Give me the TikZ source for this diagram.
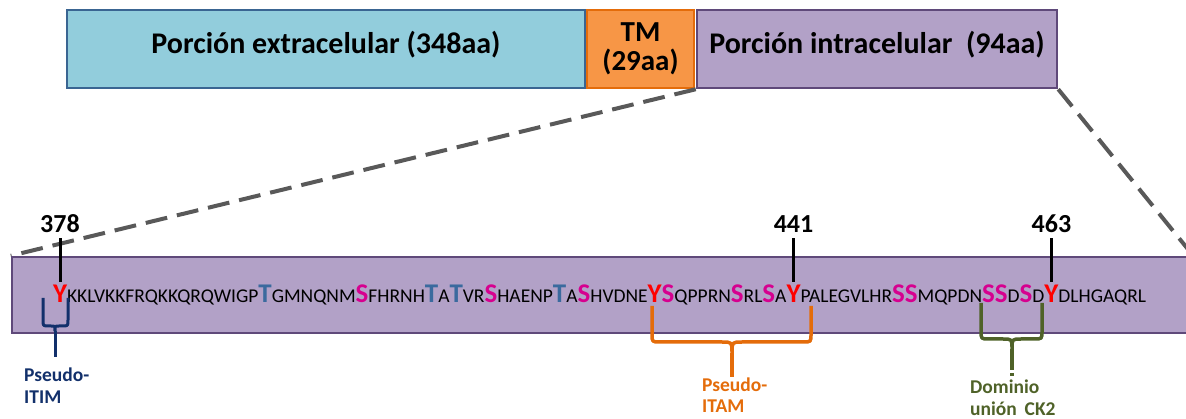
\documentclass[tikz,border=0pt]{standalone}
\usepackage{fontspec}
\setmainfont{Carlito}
\usetikzlibrary{calc}

\definecolor{extfill}{HTML}{92CDDC}
\definecolor{extline}{HTML}{3A6592}
\definecolor{tmfill}{HTML}{F79646}
\definecolor{tmline}{HTML}{E46C0A}
\definecolor{infill}{HTML}{B2A1C7}
\definecolor{inline}{HTML}{5F497A}
\definecolor{tyrc}{HTML}{FF0000}
\definecolor{serc}{HTML}{D6008F}
\definecolor{thrc}{HTML}{3A6A9E}
\definecolor{itimc}{HTML}{12306B}
\definecolor{itamc}{HTML}{E46C0A}
\definecolor{ckc}{HTML}{4F6228}
\definecolor{zoomc}{HTML}{595959}

\begin{document}
\begin{tikzpicture}[x=1pt,y=1pt,
  dombox/.style={draw, line width=2.5pt, minimum height=78pt, inner sep=0pt},
  domtext/.style={inner sep=0pt, font=\fontsize{30}{30}\selectfont\bfseries},
  res/.style={anchor=base west, inner sep=0pt, outer sep=0pt, font=\fontsize{19.5}{20}\selectfont},
  tyr/.style={res, text=tyrc, font=\fontsize{27}{28}\selectfont\bfseries},
  thr/.style={res, text=thrc, font=\fontsize{27}{28}\selectfont\bfseries},
  ser/.style={res, text=serc, font=\fontsize{27}{28}\selectfont\bfseries},
  num/.style={anchor=base, inner sep=0pt, font=\fontsize{26}{26}\selectfont\bfseries},
  tickline/.style={line width=3pt, black},
  zoomline/.style={line width=4pt, zoomc, dash pattern=on 22pt off 10pt},
  bracepath/.style={line width=3.5pt, line join=round},
  lbl/.style={anchor=base west, align=left, inner sep=0pt, font=\fontsize{19.5}{21}\selectfont\bfseries}
]
\clip (0,0) rectangle (1186,-419);

% domain bar
\node[dombox, fill=extfill, draw=extline, minimum width=518pt] (ext) at (326,-49) {};
\node[dombox, fill=tmfill, draw=tmline, minimum width=107pt] (tm) at (640.5,-49) {};
\node[dombox, fill=infill, draw=inline, minimum width=360pt] (intra) at (877,-49) {};
\node[domtext] at ([yshift=4pt]ext.center) {Porción extracelular (348aa)};
\node[domtext, align=center, font=\fontsize{29}{29}\selectfont\bfseries] at (tm.center) {TM\\(29aa)};
\node[domtext] at ([yshift=4pt]intra.center) {Porción intracelular\ \ (94aa)};

% expanded intracellular region
\node[dombox, fill=infill, draw=inline, minimum width=1180pt, minimum height=76pt] (seq) at (602,-295) {};
\draw[zoomline] (intra.south west) -- (seq.north west);
\draw[zoomline] (intra.south east) -- (seq.north east);
\node[dombox, fill=infill, draw=inline, minimum width=1180pt, minimum height=76pt] at (seq.center) {};

% residues 378-471
\node[tyr] (s1) at (53,-303) {Y};
\node[res] (s2) at (s1.base east) {KKLVKKFRQKKQRQWIGP};
\node[thr] (s3) at (s2.base east) {T};
\node[res] (s4) at (s3.base east) {GMNQNM};
\node[ser] (s5) at (s4.base east) {S};
\node[res] (s6) at (s5.base east) {FHRNH};
\node[thr] (s7) at (s6.base east) {T};
\node[res] (s8) at (s7.base east) {A};
\node[thr] (s9) at (s8.base east) {T};
\node[res] (s10) at (s9.base east) {VR};
\node[ser] (s11) at (s10.base east) {S};
\node[res] (s12) at (s11.base east) {HAENP};
\node[thr] (s13) at (s12.base east) {T};
\node[res] (s14) at (s13.base east) {A};
\node[ser] (s15) at (s14.base east) {S};
\node[res] (s16) at (s15.base east) {HVDNE};
\node[tyr] (s17) at (s16.base east) {Y};
\node[ser] (s18) at (s17.base east) {S};
\node[res] (s19) at (s18.base east) {QPPRN};
\node[ser] (s20) at (s19.base east) {S};
\node[res] (s21) at (s20.base east) {RL};
\node[ser] (s22) at (s21.base east) {S};
\node[res] (s23) at (s22.base east) {A};
\node[tyr] (s24) at (s23.base east) {Y};
\node[res] (s25) at (s24.base east) {PALEGVLHR};
\node[ser] (s26) at (s25.base east) {SS};
\node[res] (s27) at (s26.base east) {MQPDN};
\node[ser] (s28) at (s27.base east) {SS};
\node[res] (s29) at (s28.base east) {D};
\node[ser] (s30) at (s29.base east) {S};
\node[res] (s31) at (s30.base east) {D};
\node[tyr] (s32) at (s31.base east) {Y};
\node[res] (s33) at (s32.base east) {DLHGAQRL};

% position markers
\node[num] (n378) at (s1.center |- 0,-233) {378};
\node[num] (n441) at (s24.center |- 0,-233) {441};
\node[num] (n463) at (s32.center |- 0,-233) {463};
\draw[tickline] ([yshift=-5pt]n378.south) -- ([yshift=3pt]s1.north);
\draw[tickline] ([yshift=-5pt]n441.south) -- ([yshift=3pt]s24.north);
\draw[tickline] ([yshift=-5pt]n463.south) -- ([yshift=3pt]s32.north);

% motif labels (base = baseline of the last line)
\node[lbl, text=itimc] (itim) at (24,-403) {Pseudo-\\ITIM};
\node[lbl, text=itamc] (itam) at (702,-413) {Pseudo-\\ITAM};
\node[lbl, text=ckc] (ck) at (970,-415) {Dominio\\unión\hspace{0.4em}CK2};

% motif braces
\coordinate (itimtip) at (55,-331);
\draw[bracepath, itimc, line width=3pt]
  (43,-298) -- (43,-320) .. controls (43,-326) .. (49,-326) -- (51,-326)
  .. controls (55,-326) .. (itimtip)
  .. controls (55,-326) .. (59,-326) -- (62,-326)
  .. controls (68,-326) .. (68,-320) -- (68,-298);
\draw[itimc, line width=3pt] (itimtip) -- (55,-357);

\coordinate (itamtip) at (732,-353);
\draw[bracepath, itamc]
  (652,-306) -- (652,-334) .. controls (652,-342) .. (660,-342) -- (722,-342)
  .. controls (732,-342) .. (itamtip)
  .. controls (732,-342) .. (742,-342) -- (803,-342)
  .. controls (811,-342) .. (811,-334) -- (811,-306);
\draw[itamc, line width=3.5pt] (itamtip) -- (732,-377);

\coordinate (cktip) at (1012,-349);
\draw[bracepath, ckc]
  (981,-303) -- (981,-331) .. controls (981,-339) .. (989,-339) -- (1003,-339)
  .. controls (1012,-339) .. (cktip)
  .. controls (1012,-339) .. (1021,-339) -- (1034,-339)
  .. controls (1042,-339) .. (1042,-331) -- (1042,-303);
\draw[ckc, line width=3.5pt] (cktip) -- (1012,-370);
\draw[ckc, line width=3.5pt] (1012,-373) -- (1012,-376);
\end{tikzpicture}
\end{document}
